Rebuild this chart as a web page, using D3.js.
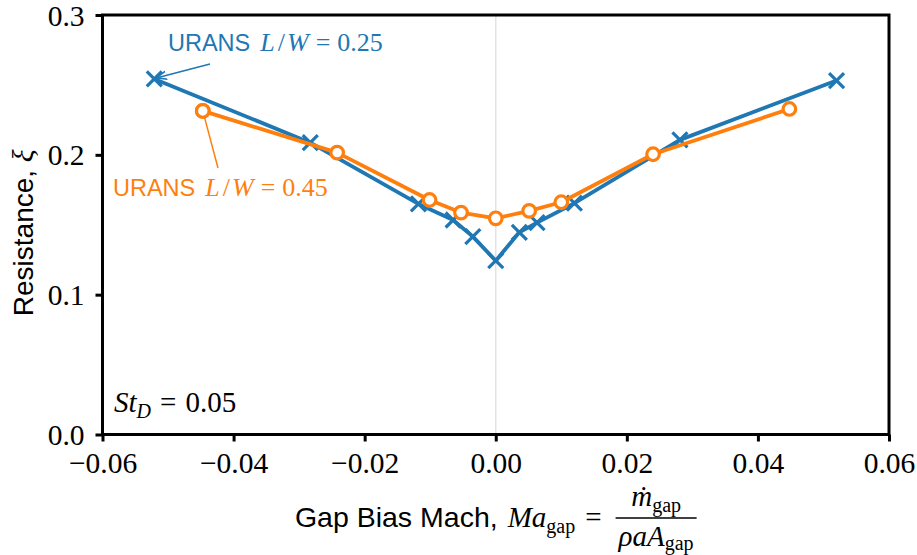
<!DOCTYPE html>
<html>
<head>
<meta charset="utf-8">
<script src="https://cdn.jsdelivr.net/npm/d3@7"></script>
<style>
  body { margin: 0; background: #fff; }
  svg { display: block; }
  text { white-space: pre; }
</style>
</head>
<body>
<div class="canvas"></div>
<script>
// data
const machL25 = [-0.0521, -0.0283, -0.0118, -0.0065, -0.0035, 0.0, 0.0036, 0.0063, 0.0120, 0.0281, 0.0520];
const xiL25   = [0.2543, 0.2087, 0.1649, 0.1534, 0.1415, 0.1243, 0.1446, 0.1515, 0.1654, 0.2107, 0.2531];
const machL45 = [-0.0447, -0.0242, -0.0101, -0.0053, 0.0, 0.0051, 0.0100, 0.0240, 0.0448];
const xiL45   = [0.2314, 0.2016, 0.1677, 0.1587, 0.1546, 0.1599, 0.1661, 0.2004, 0.2328];
const xTicks = [-0.06, -0.04, -0.02, 0.0, 0.02, 0.04, 0.06];
const yTicks = [0.0, 0.1, 0.2, 0.3];

const blue = '#1f77b4';
const orange = '#ff7f0e';
const serif = "'Liberation Serif', 'DejaVu Serif', serif";
const sans = "'Liberation Sans', Arial, sans-serif";

const width = 917, height = 555;
const margin = { top: 15, right: 28, bottom: 120.5, left: 102.5 };
const graphWidth = width - margin.left - margin.right;
const graphHeight = height - margin.top - margin.bottom;

const svg = d3.select('.canvas')
  .append('svg')
  .attr('width', width)
  .attr('height', height);

const graph = svg.append('g')
  .attr('transform', `translate(${margin.left}, ${margin.top})`);

// scales
const x = d3.scaleLinear().domain([-0.06, 0.06]).range([0, graphWidth]);
const y = d3.scaleLinear().domain([0, 0.3]).range([graphHeight, 0]);

// zero line
graph.append('line')
  .attr('x1', x(0)).attr('x2', x(0))
  .attr('y1', 0).attr('y2', graphHeight)
  .attr('stroke', '#e3e3e3')
  .attr('stroke-width', 1.5);

// axes
const fmtX = d => (d < 0 ? '\u2212' : '') + Math.abs(d).toFixed(2);
const fmtY = d => d.toFixed(1);

const xAxisGroup = graph.append('g')
  .attr('transform', `translate(0, ${graphHeight})`)
  .call(d3.axisBottom(x).tickValues(xTicks).tickFormat(fmtX).tickSizeOuter(0).tickSize(7).tickPadding(6));

const yAxisGroup = graph.append('g')
  .call(d3.axisLeft(y).tickValues(yTicks).tickFormat(fmtY).tickSizeOuter(0).tickSize(7).tickPadding(11));

[xAxisGroup, yAxisGroup].forEach(g => {
  g.select('.domain').remove();
  g.selectAll('.tick line').attr('stroke', '#000').attr('stroke-width', 3);
  g.selectAll('.tick text')
    .attr('fill', '#000')
    .style('font-family', serif)
    .style('font-size', '29.5px');
});
xAxisGroup.selectAll('.tick text').attr('dy', '0.86em');
yAxisGroup.selectAll('.tick text').attr('dy', '0.34em');

// frame
graph.append('rect')
  .attr('x', 0).attr('y', 0)
  .attr('width', graphWidth).attr('height', graphHeight)
  .attr('fill', 'none')
  .attr('stroke', '#000')
  .attr('stroke-width', 3);

// lines
const line = d3.line()
  .x(d => x(d[0]))
  .y(d => y(d[1]));

const l25 = machL25.map((m, i) => [m, xiL25[i]]);
const l45 = machL45.map((m, i) => [m, xiL45[i]]);

graph.append('path')
  .datum(l25)
  .attr('fill', 'none')
  .attr('stroke', blue)
  .attr('stroke-width', 3.8)
  .attr('stroke-linejoin', 'round')
  .attr('d', line);

const cross = 7.5;
graph.selectAll('.cross')
  .data(l25)
  .enter().append('path')
  .attr('class', 'cross')
  .attr('transform', d => `translate(${x(d[0])}, ${y(d[1])})`)
  .attr('d', `M${-cross},${-cross}L${cross},${cross}M${-cross},${cross}L${cross},${-cross}`)
  .attr('stroke', blue)
  .attr('stroke-width', 3.2);

graph.append('path')
  .datum(l45)
  .attr('fill', 'none')
  .attr('stroke', orange)
  .attr('stroke-width', 3.8)
  .attr('stroke-linejoin', 'round')
  .attr('d', line);

graph.selectAll('.ring')
  .data(l45)
  .enter().append('circle')
  .attr('class', 'ring')
  .attr('cx', d => x(d[0]))
  .attr('cy', d => y(d[1]))
  .attr('r', 6.3)
  .attr('fill', '#fff')
  .attr('stroke', orange)
  .attr('stroke-width', 3.2);

// little helper: lay out runs of text one after another
function runs(parent, x0, y0, pieces) {
  const g = parent.append('g');
  let cx = 0;
  pieces.forEach(p => {
    const t = g.append('text')
      .attr('x', cx)
      .attr('y', p.dy || 0)
      .text(p.t)
      .attr('fill', p.fill || '#000')
      .style('font-family', p.font || serif)
      .style('font-size', (p.size || 24) + 'px')
      .style('font-style', p.italic ? 'italic' : 'normal');
    cx += t.node().getComputedTextLength() + (p.gap || 0);
  });
  g.attr('transform', `translate(${x0}, ${y0})`);
  return cx;
}

// annotations
svg.append('defs').append('marker')
  .attr('id', 'arrowBlue')
  .attr('viewBox', '0 0 10 10')
  .attr('refX', 10).attr('refY', 5)
  .attr('markerWidth', 7).attr('markerHeight', 7)
  .attr('orient', 'auto')
  .append('path')
  .attr('d', 'M0,1L10,5L0,9')
  .attr('fill', 'none')
  .attr('stroke', blue)
  .attr('stroke-width', 1.5);

svg.append('line')
  .attr('x1', 210).attr('y1', 64)
  .attr('x2', margin.left + x(machL25[0]) + 2).attr('y2', margin.top + y(xiL25[0]) - 1)
  .attr('stroke', blue)
  .attr('stroke-width', 1.5)
  .attr('marker-end', 'url(#arrowBlue)');

svg.append('line')
  .attr('x1', 218).attr('y1', 168)
  .attr('x2', margin.left + x(machL45[0])).attr('y2', margin.top + y(xiL45[0]))
  .attr('stroke', orange)
  .attr('stroke-width', 1.5);

// redraw the first ring on top of its leader line
svg.append('circle')
  .attr('cx', margin.left + x(machL45[0]))
  .attr('cy', margin.top + y(xiL45[0]))
  .attr('r', 6.3)
  .attr('fill', '#fff')
  .attr('stroke', orange)
  .attr('stroke-width', 3.2);

function annot(x0, y0, value, fill) {
  runs(svg, x0, y0, [
    { t: 'URANS', font: sans, size: 23.5, fill: fill, gap: 10 },
    { t: 'L', italic: true, size: 26, fill: fill, gap: 3 },
    { t: '/', size: 26, fill: fill, gap: 2 },
    { t: 'W', italic: true, size: 26, fill: fill, gap: 7 },
    { t: '=', size: 26, fill: fill, gap: 7 },
    { t: value, size: 26, fill: fill }
  ]);
}
annot(168, 51, '0.25', blue);
annot(113, 196, '0.45', orange);

// St_D label
runs(svg, 114, 412, [
  { t: 'St', italic: true, size: 29 },
  { t: 'D', italic: true, size: 20, dy: 6, gap: 9 },
  { t: '=', size: 29, gap: 9 },
  { t: '0.05', size: 29 }
]);

// y label
svg.append('text')
  .attr('transform', `translate(33, ${margin.top + graphHeight / 2 + 8}) rotate(-90)`)
  .attr('text-anchor', 'middle')
  .style('font-family', sans)
  .style('font-size', '28px')
  .text('Resistance, ')
  .append('tspan')
  .style('font-family', serif)
  .style('font-style', 'italic')
  .style('font-size', '30px')
  .text('\u03be');

// x label with the fraction
const xl = svg.append('g');
const cxLabel = margin.left + graphWidth / 2;
const base = 527;
const left = xl.append('g');
const wLeft = runs(left, 0, 0, [
  { t: 'Gap Bias Mach,', font: sans, size: 28.5, gap: 10 },
  { t: 'Ma', italic: true, size: 29 },
  { t: 'gap', size: 20, dy: 6, gap: 10 },
  { t: '=', size: 29, gap: 14 }
]);
const num = xl.append('g');
const wNum = runs(num, 0, 0, [
  { t: '\u1e41', italic: true, size: 29 },
  { t: 'gap', size: 20, dy: 6 }
]);
const den = xl.append('g');
const wDen = runs(den, 0, 0, [
  { t: '\u03c1aA', italic: true, size: 29 },
  { t: 'gap', size: 20, dy: 4 }
]);
const wFrac = Math.max(wNum, wDen) + 6;
const total = wLeft + wFrac;
const x0 = cxLabel - total / 2;
left.attr('transform', `translate(${x0}, ${base})`);
const fx = x0 + wLeft;
num.attr('transform', `translate(${fx + (wFrac - wNum) / 2}, ${base - 21})`);
den.attr('transform', `translate(${fx + (wFrac - wDen) / 2}, ${base + 19})`);
xl.append('line')
  .attr('x1', fx).attr('x2', fx + wFrac)
  .attr('y1', base - 9).attr('y2', base - 9)
  .attr('stroke', '#000')
  .attr('stroke-width', 1.5);
</script>
</body>
</html>
